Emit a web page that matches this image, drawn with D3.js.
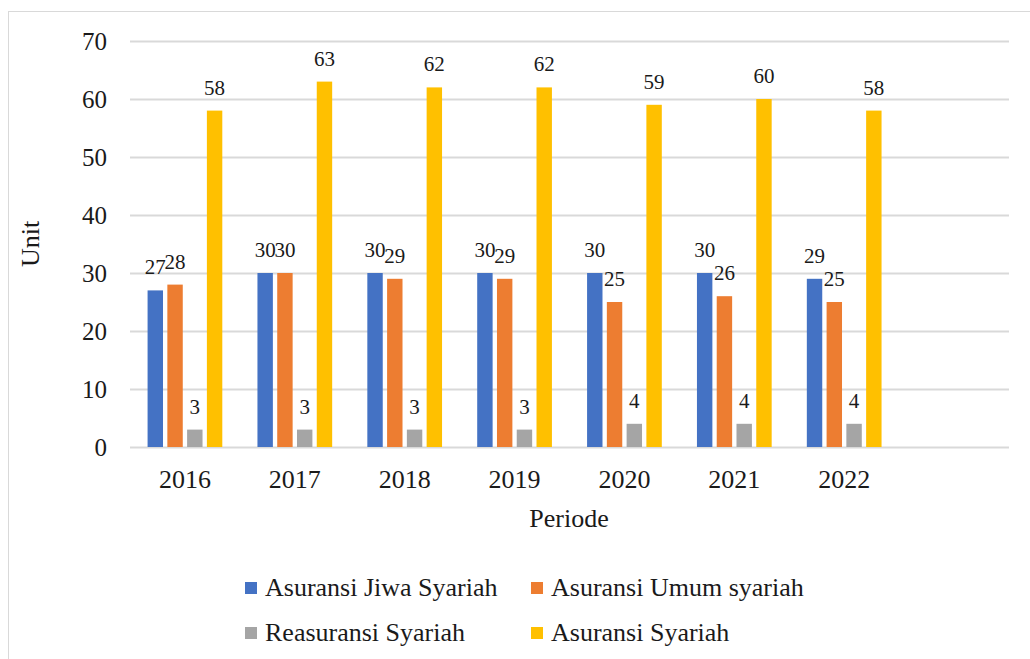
<!DOCTYPE html>
<html><head><meta charset="utf-8">
<script src="https://cdn.jsdelivr.net/npm/d3@7"></script>
<style>body{margin:0;background:#fff;} svg{display:block;}</style>
</head><body>
<script>
const categories = ["2016","2017","2018","2019","2020","2021","2022",""];
const seriesNames = ["Asuransi Jiwa Syariah","Asuransi Umum syariah","Reasuransi Syariah","Asuransi Syariah"];
const jiwa = [27,30,30,30,30,30,29];
const umum = [28,30,29,29,25,26,25];
const reas = [3,3,3,3,4,4,4];
const syariah = [58,63,62,62,59,60,58];
const colors = ["#4472C4","#ED7D31","#A5A5A5","#FFC000"];
const yTicks = [0,10,20,30,40,50,60,70];

(function(){
const FF="'Liberation Serif'";
const W=1030,H=659;
const svg=d3.select("body").append("svg").attr("width",W).attr("height",H);
svg.append("rect").attr("x",8.5).attr("y",11.5).attr("width",1030).attr("height",660).attr("fill","none").attr("stroke","#D9D9D9");

const pl=130,pr=1009,pt=41,pb=447;
const x=d3.scaleBand().domain(categories).range([pl,pr]).paddingInner(0.32).paddingOuter(0.16);
const x1=d3.scaleBand().domain(d3.range(4)).range([0,x.bandwidth()]).paddingInner(0.22);
const y=d3.scaleLinear().domain([0,70]).range([pb,pt]);

svg.append("g").selectAll("line").data(yTicks).join("line")
 .attr("x1",pl).attr("x2",pr).attr("y1",d=>y(d)+0.5).attr("y2",d=>y(d)+0.5)
 .attr("stroke","#D9D9D9").attr("stroke-width",2);

svg.append("g").selectAll("text").data(yTicks).join("text")
 .attr("x",107).attr("y",d=>y(d)).attr("dy","0.35em").attr("text-anchor","end")
 .attr("font-family",FF).attr("font-size",25).attr("fill","#1a1a1a").text(d=>d);

svg.append("g").selectAll("text").data(categories.filter(c=>c)).join("text")
 .attr("x",d=>x(d)+x.bandwidth()/2).attr("y",488).attr("text-anchor","middle")
 .attr("font-family",FF).attr("font-size",26).attr("fill","#1a1a1a").text(d=>d);

const series=[jiwa,umum,reas,syariah];
series.forEach((vals,si)=>{
  const g=svg.append("g");
  g.selectAll("rect").data(vals).join("rect")
   .attr("x",(d,i)=>x(categories[i])+x1(si)).attr("width",x1.bandwidth())
   .attr("y",d=>y(d)).attr("height",d=>y(0)-y(d)).attr("fill",colors[si]);
  g.selectAll("text").data(vals).join("text")
   .attr("x",(d,i)=>x(categories[i])+x1(si)+x1.bandwidth()/2).attr("y",d=>y(d)-16)
   .attr("text-anchor","middle").attr("font-family",FF).attr("font-size",21).attr("fill","#1a1a1a").text(d=>d);
});

svg.append("text").attr("transform","translate(39,244) rotate(-90)").attr("text-anchor","middle")
 .attr("font-family",FF).attr("font-size",26).attr("fill","#1a1a1a").text("Unit");
svg.append("text").attr("x",569).attr("y",527).attr("text-anchor","middle")
 .attr("font-family",FF).attr("font-size",26).attr("fill","#1a1a1a").text("Periode");

const legPos=[[245,582],[531,582],[245,627],[531,627]];
seriesNames.forEach((n,i)=>{
  const [lx,ly]=legPos[i];
  svg.append("rect").attr("x",lx).attr("y",ly).attr("width",12).attr("height",12).attr("fill",colors[i]);
  svg.append("text").attr("x",lx+20).attr("y",ly+14).attr("font-family",FF).attr("font-size",26).attr("fill","#1a1a1a").text(n);
});
})();
</script>
</body></html>
